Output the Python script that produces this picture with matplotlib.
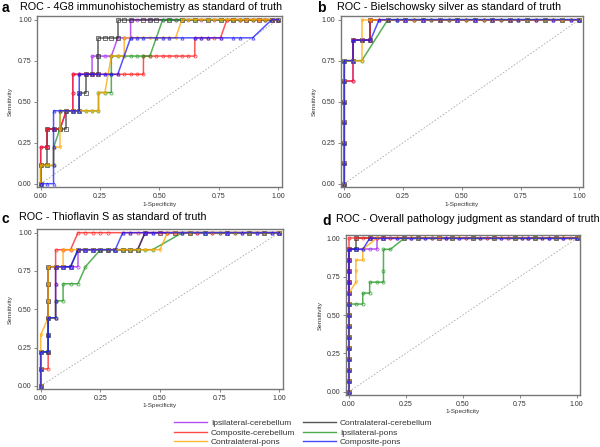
import matplotlib
matplotlib.use('Agg')
import matplotlib.pyplot as plt
from matplotlib.lines import Line2D

plt.rcParams['font.family'] = ['Liberation Sans', 'DejaVu Sans']

# curve names / styles (same order in every panel)
labels = ['Ipsilateral-cerebellum', 'Contralateral-cerebellum', 'Composite-cerebellum',
          'Ipsilateral-pons', 'Contralateral-pons', 'Composite-pons']
colors = ['#A020F0', '#2a2a2a', '#FF1A1A', '#1E961E', '#FFA500', '#1A1AFF']
markers = ['o', 's', 'o', 'o', 'v', '^']

letters = ['a', 'b', 'c', 'd']
titles = ['ROC - 4G8 immunohistochemistry as standard of truth',
          'ROC - Bielschowsky silver as standard of truth',
          'ROC - Thioflavin S as standard of truth',
          'ROC - Overall pathology judgment as standard of truth']

# number of positive / negative cases per panel (steps of the curves)
n_pos = [9, 8, 9, 14]
n_neg = [37, 27, 32, 33]

ticks = [0, 0.25, 0.5, 0.75, 1.0]
tick_labels = ['0.00', '0.25', '0.50', '0.75', '1.00']

# ROC points as (false positives, true positives) counts
roc_a = [
    [(0,0),(0,1),(0,2),(1,2),(1,3),(2,3),(3,3),(4,4),(5,4),(5,5),(5,6),(6,6),(7,6),(8,6),(8,7),(9,7),
     (10,7),(11,7),(12,8),(13,8),(14,8),(14,9),(15,9),(17,9),(19,9),(21,9),(23,9),(25,9),(27,9),(29,9),
     (31,9),(33,9),(35,9),(37,9)],
    [(0,0),(0,1),(1,1),(1,2),(1,3),(2,3),(3,3),(4,3),(4,4),(5,4),(6,4),(6,5),(7,5),(7,6),(8,6),(9,6),
     (9,7),(9,8),(10,8),(11,8),(12,8),(12,9),(13,9),(14,9),(16,9),(17,9),(18,9),(20,9),(22,9),(24,9),
     (26,9),(28,9),(30,9),(32,9),(34,9),(36,9),(37,9)],
    [(0,0),(0,1),(0,2),(1,2),(1,3),(2,3),(3,3),(4,4),(5,4),(5,5),(5,6),(6,6),(7,6),(8,6),(9,6),(10,6),
     (11,6),(12,6),(13,6),(14,6),(15,6),(16,6),(16,7),(17,7),(18,7),(19,7),(20,7),(21,7),(22,7),(23,7),
     (24,7),(24,8),(25,8),(26,8),(27,8),(28,8),(29,9),(30,9),(31,9),(32,9),(33,9),(34,9),(35,9),(36,9),
     (37,9)],
    [(0,0),(0,1),(1,1),(2,1),(2,2),(3,3),(3,4),(4,4),(5,4),(6,4),(7,4),(8,4),(9,4),(9,5),(10,5),(11,5),
     (11,6),(11,7),(12,7),(13,7),(14,7),(15,7),(16,7),(17,7),(19,9),(20,9),(21,9),(22,9),(24,9),(26,9),
     (28,9),(30,9),(31,9),(33,9),(35,9),(37,9)],
    [(0,0),(0,1),(1,1),(2,1),(2,2),(3,2),(3,3),(3,4),(4,4),(5,4),(6,4),(7,4),(8,4),(9,4),(9,5),(10,5),
     (11,7),(12,7),(13,7),(13,8),(14,8),(15,8),(16,8),(17,8),(18,8),(19,8),(20,8),(21,8),(22,9),(23,9),
     (24,9),(25,9),(26,9),(27,9),(28,9),(29,9),(30,9),(31,9),(32,9),(33,9),(34,9),(35,9),(36,9),(37,9)],
    [(0,0),(1,0),(2,0),(2,1),(2,2),(2,3),(2,4),(3,4),(4,4),(5,4),(6,4),(6,5),(6,6),(7,6),(8,6),(9,6),
     (10,6),(11,6),(12,6),(14,8),(15,8),(16,8),(18,8),(19,8),(20,8),(22,8),(24,8),(25,8),(26,8),(28,8),
     (30,8),(31,8),(33,8),(36,9),(37,9)],
]

roc_b = [
    [(0,0),(0,1),(0,2),(0,3),(0,4),(0,5),(1,5),(1,6),(1,7),(2,7),(3,7),(3,8),(4,8),(6,8),(8,8),(10,8),
     (12,8),(14,8),(16,8),(18,8),(20,8),(22,8),(24,8),(26,8),(27,8)],
    [(0,0),(0,1),(0,2),(0,3),(0,4),(0,5),(0,6),(1,6),(1,7),(2,7),(3,7),(3,8),(5,8),(7,8),(9,8),(11,8),
     (13,8),(15,8),(17,8),(19,8),(21,8),(23,8),(25,8),(27,8)],
    [(0,0),(0,1),(0,2),(0,3),(0,4),(0,5),(1,5),(1,6),(1,7),(2,7),(3,7),(3,8),(4,8),(5,8),(6,8),(7,8),
     (8,8),(9,8),(10,8),(11,8),(12,8),(13,8),(14,8),(15,8),(16,8),(17,8),(18,8),(19,8),(20,8),(21,8),
     (22,8),(23,8),(24,8),(25,8),(26,8),(27,8)],
    [(0,0),(0,1),(0,2),(0,3),(0,4),(0,5),(0,6),(1,6),(2,6),(5,8),(6,8),(8,8),(10,8),(12,8),(14,8),
     (16,8),(18,8),(20,8),(21,8),(23,8),(25,8),(27,8)],
    [(0,0),(0,1),(0,2),(0,3),(0,4),(0,5),(0,6),(1,6),(2,6),(2,7),(2,8),(3,8),(5,8),(8,8),(11,8),(14,8),
     (16,8),(19,8),(22,8),(24,8),(25,8),(26,8),(27,8)],
    [(0,0),(0,1),(0,2),(0,3),(0,4),(0,5),(0,6),(1,6),(1,7),(2,7),(3,7),(4,8),(5,8),(6,8),(7,8),(9,8),
     (11,8),(13,8),(15,8),(17,8),(19,8),(20,8),(22,8),(24,8),(26,8),(27,8)],
]

roc_c = [
    [(0,0),(0,1),(0,2),(1,2),(1,3),(1,4),(1,5),(1,6),(1,7),(2,7),(3,7),(4,7),(5,7),(5,8),(6,8),(7,8),
     (8,8),(9,8),(10,8),(11,8),(12,8),(13,8),(14,9),(15,9),(17,9),(19,9),(21,9),(23,9),(25,9),(27,9),
     (29,9),(31,9),(32,9)],
    [(0,0),(0,1),(0,2),(1,2),(1,3),(1,4),(1,5),(1,6),(1,7),(2,7),(3,7),(4,7),(5,8),(6,8),(7,8),(8,8),
     (9,8),(10,8),(11,8),(12,8),(13,8),(14,9),(16,9),(18,9),(20,9),(22,9),(25,9),(28,9),(30,9),(32,9)],
    [(0,0),(0,1),(1,1),(1,2),(1,3),(1,4),(2,4),(2,5),(2,6),(2,7),(2,8),(3,8),(4,8),(5,9),(6,9),(7,9),
     (8,9),(9,9),(11,9),(12,9),(13,9),(14,9),(16,9),(17,9),(18,9),(20,9),(21,9),(23,9),(24,9),(26,9),
     (28,9),(30,9),(32,9)],
    [(0,0),(0,1),(0,2),(1,2),(1,3),(1,4),(2,4),(2,5),(3,5),(3,6),(4,6),(5,6),(6,7),(8,8),(9,8),(10,8),
     (11,8),(12,8),(13,8),(14,8),(15,8),(19,9),(20,9),(22,9),(24,9),(26,9),(28,9),(30,9),(32,9)],
    [(0,0),(0,1),(0,2),(0,3),(1,4),(1,5),(1,6),(1,7),(2,7),(3,7),(3,8),(4,8),(5,8),(6,8),(7,8),(8,8),
     (9,8),(10,8),(11,8),(12,8),(13,8),(14,8),(15,8),(16,8),(17,9),(18,9),(20,9),(23,9),(26,9),(29,9),
     (32,9)],
    [(0,0),(0,1),(0,2),(1,2),(1,3),(1,4),(2,4),(2,5),(2,6),(2,7),(3,7),(4,7),(5,8),(6,8),(7,8),(8,8),
     (9,8),(10,8),(11,9),(12,9),(14,9),(15,9),(19,9),(22,9),(25,9),(27,9),(29,9),(31,9),(32,9)],
]

roc_d = [
    [(0,0),(0,1),(0,2),(0,3),(0,4),(0,5),(0,6),(0,7),(0,8),(0,9),(0,10),(0,11),(0,12),(0,13),(1,13),
     (2,13),(3,13),(4,13),(4,14),(6,14),(9,14),(12,14),(14,14),(17,14),(20,14),(23,14),(26,14),(29,14),
     (31,14),(33,14)],
    [(0,0),(0,1),(0,2),(0,3),(0,4),(0,5),(0,6),(0,7),(0,8),(0,9),(0,10),(0,11),(0,12),(0,13),(1,13),
     (1,14),(3,14),(5,14),(8,14),(10,14),(13,14),(15,14),(18,14),(21,14),(24,14),(27,14),(30,14),(33,14)],
    [(0,0),(0,1),(0,2),(0,3),(0,4),(0,5),(0,6),(0,7),(0,8),(0,9),(0,10),(0,11),(0,12),(0,13),(0,14),
     (1,14),(2,14),(3,14),(4,14),(5,14),(6,14),(7,14),(8,14),(9,14),(10,14),(11,14),(12,14),(13,14),
     (14,14),(15,14),(16,14),(17,14),(18,14),(19,14),(20,14),(21,14),(22,14),(23,14),(24,14),(25,14),
     (26,14),(27,14),(28,14),(29,14),(30,14),(31,14),(32,14),(33,14)],
    [(0,0),(0,1),(0,2),(0,3),(0,4),(0,5),(0,6),(0,7),(0,8),(1,8),(2,8),(2,9),(3,9),(3,10),(4,10),(5,10),
     (5,11),(5,13),(6,13),(8,14),(10,14),(12,14),(15,14),(18,14),(21,14),(24,14),(27,14),(30,14),(33,14)],
    [(0,0),(0,1),(0,2),(0,3),(0,4),(0,5),(0,6),(0,7),(0,8),(0,9),(1,10),(1,11),(1,12),(2,12),(2,13),
     (4,14),(7,14),(9,14),(11,14),(13,14),(16,14),(19,14),(22,14),(25,14),(28,14),(31,14),(33,14)],
    [(0,0),(0,1),(0,2),(0,3),(0,4),(0,5),(0,6),(0,7),(0,8),(0,9),(0,10),(0,11),(0,12),(0,13),(1,13),
     (2,13),(3,14),(5,14),(7,14),(9,14),(11,14),(14,14),(16,14),(19,14),(22,14),(25,14),(26,14),(28,14),
     (29,14),(31,14),(33,14)],
]

panels = [roc_a, roc_b, roc_c, roc_d]

# axes boxes and title positions, in pixels of the 600x447 canvas
W, H = 600, 447
boxes = [(37.3, 16, 281.7, 187.3), (341, 16, 582.7, 187.3),
         (37.3, 229.3, 282.7, 389.3), (345.7, 235, 580, 395)]
title_pos = [(2, 20, 1.5), (317, 337, 1.5), (1, 19, 211.5), (322, 336, 214.5)]

fig = plt.figure(figsize=(6, 4.47), dpi=100)

for k, curves in enumerate(panels):
    x0, y0, x1, y1 = boxes[k]
    ax = fig.add_axes([x0 / W, 1 - y1 / H, (x1 - x0) / W, (y1 - y0) / H])
    ax.plot([0, 1], [0, 1], ls=(0, (2, 2)), color='#aaaaaa', lw=0.6, zorder=1)
    for i, pts in enumerate(curves):
        fp, tp = zip(*pts)
        xs = [v / n_neg[k] for v in fp]
        ys = [v / n_pos[k] for v in tp]
        ax.plot(xs, ys, color=colors[i], lw=1.1, alpha=0.75, marker=markers[i],
                ms=2.2, mfc='none', mew=0.6, zorder=2 + i)
    ax.set_xlim(-0.0143, 1.0143)
    ax.set_ylim(-0.022, 1.022)
    ax.set_xticks(ticks)
    ax.set_xticklabels(tick_labels)
    ax.set_yticks(ticks)
    ax.set_yticklabels(tick_labels)
    ax.tick_params(labelsize=5, length=2, width=0.5, pad=2, color='#555555', labelcolor='#333333')
    for s in ax.spines.values():
        s.set_color('#777777')
        s.set_linewidth(1.0)
    ax.set_xlabel('1-Specificity', fontsize=4.6, color='#333333')
    ax.set_ylabel('Sensitivity', fontsize=4.6, color='#333333')
    ax.xaxis.set_label_coords(0.5, -0.085)
    ax.yaxis.set_label_coords(-0.1, 0.5)

    lx, tx, ty = title_pos[k]
    fig.text(lx / W, 1 - ty / H, letters[k], fontsize=10, weight='bold', va='top', ha='left')
    fig.text(tx / W, 1 - ty / H, titles[k], fontsize=7.75, va='top', ha='left')

handles = [Line2D([], [], color=c, lw=1.0, alpha=0.8) for c in colors]
order = [0, 2, 4, 1, 3, 5]
fig.legend([handles[i] for i in order], [labels[i] for i in order], ncol=2,
           loc='center left', bbox_to_anchor=(174 / W, 1 - 433 / H), frameon=False,
           fontsize=6, handlelength=4.0, handletextpad=0.45, columnspacing=0.9,
           labelspacing=0.2, borderpad=0, borderaxespad=0, labelcolor='#333333')

fig.savefig('out.png', dpi=100)
